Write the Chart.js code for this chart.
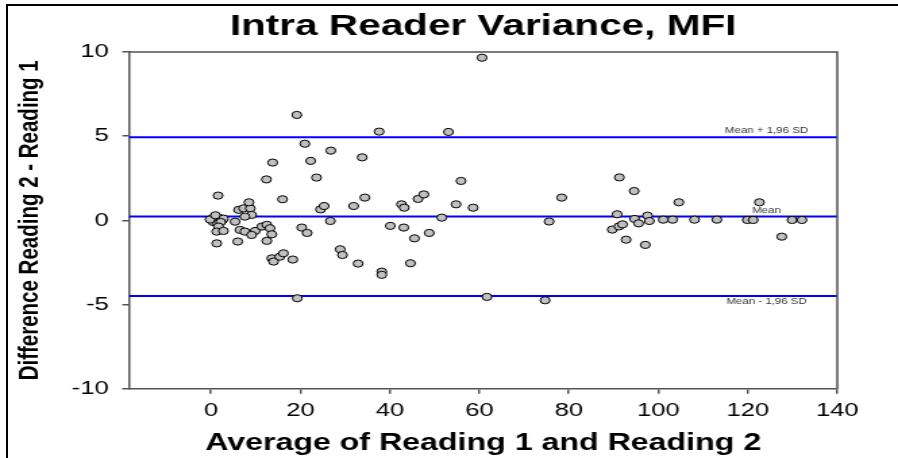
<!DOCTYPE html>
<html>
<head>
<meta charset="utf-8">
<script src="https://cdn.jsdelivr.net/npm/chart.js@4/dist/chart.umd.min.js"></script>
<style>
  html, body { margin: 0; padding: 0; background: #fff; overflow: hidden; }
  #frame {
    position: absolute; left: 6px; top: 4px; right: -4px; bottom: -4px;
    border-top: 2px solid #000; border-left: 2px solid #000;
  }
  /* the plot is drawn narrow and widened horizontally */
  #wrap {
    position: absolute; left: 0; top: 0; width: 665px; height: 458px;
    transform: scaleX(1.3504); transform-origin: 0 0;
  }
</style>
</head>
<body>
<div id="frame"></div>
<div id="wrap"><canvas id="ba" width="665" height="458"></canvas></div>
<script>
// ── Bland-Altman data ─────────────────────────────────────────────────────────

var avgReading = [
  0.3, 0.8, 1.2, 1.8, 2.5, 0.5, 1.5, 2.8, -0.2, 1.0, 2.2,
  1.7, 1.3, 2.8, 1.6, 1.3,
  5.4, 6.0, 6.2, 7.3, 8.8, 8.5, 9.1, 7.6, 6.5, 7.6, 9.9, 9.1,
  11.4, 12.5, 13.2, 13.6, 12.5, 12.4, 13.8,
  13.6, 14.0, 15.4, 16.2, 16.0, 18.3, 19.2, 19.3,
  20.3, 21.5, 21.0, 22.3, 23.6, 24.5, 25.3, 26.7, 26.8,
  28.9, 29.4, 31.9, 32.9, 33.8, 34.4, 37.6, 38.2, 38.2,
  40.1, 42.6, 43.2, 43.1, 44.6, 45.5, 46.3, 47.6, 48.8,
  51.6, 53.1, 54.8, 55.9, 58.6, 60.6, 61.7,
  74.7, 75.6, 78.4,
  89.7, 90.8, 91.2, 92.0, 91.3, 92.8, 94.6, 94.7, 95.6, 97.1, 97.6, 98.0,
  101.1, 103.2, 104.6, 108.1, 113.1, 119.9, 121.2, 122.6, 127.6, 129.9, 132.1
];
var diffReading = [
  0.10, 0.20, 0.05, 0.15, 0.00, -0.10, -0.20, 0.10, 0.05, 0.30, -0.10,
  -0.37, -0.67, -0.63, 1.47, -1.37,
  -0.08, -1.26, 0.62, 0.71, 0.71, 1.07, 0.32, 0.22, -0.57, -0.67, -0.63, -0.87,
  -0.37, -0.27, -0.47, -0.83, -1.22, 2.43, 3.43,
  -2.26, -2.45, -2.16, -1.96, 1.25, -2.33, 6.26, -4.63,
  -0.43, -0.75, 4.55, 3.53, 2.54, 0.65, 0.85, -0.04, 4.14,
  -1.72, -2.06, 0.85, -2.57, 3.74, 1.35, 5.27, -3.05, -3.24,
  -0.33, 0.95, 0.75, -0.43, -2.55, -1.07, 1.27, 1.54, -0.75,
  0.16, 5.25, 0.95, 2.34, 0.75, 9.66, -4.55,
  -4.75, -0.07, 1.35,
  -0.55, 0.36, -0.36, -0.24, 2.55, -1.15, 1.74, 0.08, -0.18, -1.46, 0.28, -0.04,
  0.04, 0.04, 1.07, 0.04, 0.04, 0.02, 0.02, 1.07, -0.97, 0.02, 0.02
];

var meanDiff   = 0.22;
var upperLimit = 4.93;   // mean + 1.96 SD
var lowerLimit = -4.49;  // mean - 1.96 SD

var xMin = -18.3, xMax = 140;
var yMin = -10,   yMax = 10;
var xTickValues = [0, 20, 40, 60, 80, 100, 120, 140];
var yTickValues = [-10, -5, 0, 5, 10];

var limitLabels = ["Mean + 1,96 SD", "Mean", "Mean - 1,96 SD"];
var limitLabelX = 124.2;

// ── 차트 ──────────────────────────────────────────────────────────────────────

var FONT = "'Liberation Sans', Arial, sans-serif";

var points = avgReading.map(function(x, i) { return { x: x, y: diffReading[i] }; });

function hLine(v) {
  return {
    data: [{ x: xMin, y: v }, { x: xMax, y: v }],
    showLine: true, borderColor: "#0000ff", borderWidth: 2,
    pointRadius: 0, order: 2,
  };
}

// top/right edges of the plot box + the limit captions
var boxAndLabels = {
  id: "boxAndLabels",
  afterDatasetsDraw: function(chart) {
    var ctx = chart.ctx, a = chart.chartArea;
    var xs = chart.scales.x, ys = chart.scales.y;
    ctx.save();
    ctx.strokeStyle = "#505050";
    ctx.lineWidth = 1.5;
    ctx.beginPath();
    ctx.moveTo(a.left, a.top);
    ctx.lineTo(a.right, a.top);
    ctx.lineTo(a.right, a.bottom);
    ctx.stroke();

    ctx.fillStyle = "#333";
    ctx.font = "8.5px " + FONT;
    ctx.textAlign = "center";
    var lx = xs.getPixelForValue(limitLabelX);
    ctx.textBaseline = "bottom";
    ctx.fillText(limitLabels[0], lx, ys.getPixelForValue(upperLimit) - 2);
    ctx.fillText(limitLabels[1], lx, ys.getPixelForValue(meanDiff) - 2);
    ctx.textBaseline = "top";
    ctx.fillText(limitLabels[2], lx, ys.getPixelForValue(lowerLimit) + 2);
    ctx.restore();
  }
};

new Chart(document.getElementById("ba").getContext("2d"), {
  type: "scatter",
  data: {
    datasets: [
      {
        data: points,
        backgroundColor: "#c0c0c0", borderColor: "#000", borderWidth: 1,
        pointRadius: 3.6, order: 1,
      },
      hLine(upperLimit),
      hLine(meanDiff),
      hLine(lowerLimit),
    ],
  },
  options: {
    responsive: false, animation: false,
    layout: { padding: { top: 0, right: 45, bottom: 0, left: 10.5 } },
    plugins: {
      legend: { display: false },
      tooltip: { enabled: false },
      title: {
        display: true, fullSize: false,
        text: "Intra Reader Variance, MFI",
        color: "#000",
        font: { family: FONT, size: 30, weight: "bold" },
        padding: { top: 9, bottom: 7 },
      },
    },
    scales: {
      x: {
        type: "linear", min: xMin, max: xMax,
        afterBuildTicks: function(s) { s.ticks = xTickValues.map(function(v) { return { value: v }; }); },
        grid: { drawOnChartArea: false, tickLength: 5, color: "#555", lineWidth: 1.5 },
        border: { color: "#555", width: 1.5 },
        ticks: { color: "#000", font: { family: FONT, size: 19 }, padding: 6, maxRotation: 0 },
        title: {
          display: true, text: "Average of Reading 1 and Reading 2", color: "#000",
          font: { family: FONT, size: 23.8, weight: "bold" }, padding: { top: 1, bottom: 0 },
        },
      },
      y: {
        type: "linear", min: yMin, max: yMax,
        afterBuildTicks: function(s) { s.ticks = yTickValues.map(function(v) { return { value: v }; }); },
        grid: { drawOnChartArea: false, tickLength: 5, color: "#555", lineWidth: 1.5 },
        border: { color: "#555", width: 1.5 },
        ticks: { color: "#000", font: { family: FONT, size: 19 }, padding: 10 },
        title: {
          display: true, text: "Difference Reading 2 - Reading 1", color: "#000",
          font: { family: FONT, size: 20.5, weight: "bold" }, padding: { top: 0, bottom: 8 },
        },
      },
    },
  },
  plugins: [boxAndLabels],
});
</script>
</body>
</html>
